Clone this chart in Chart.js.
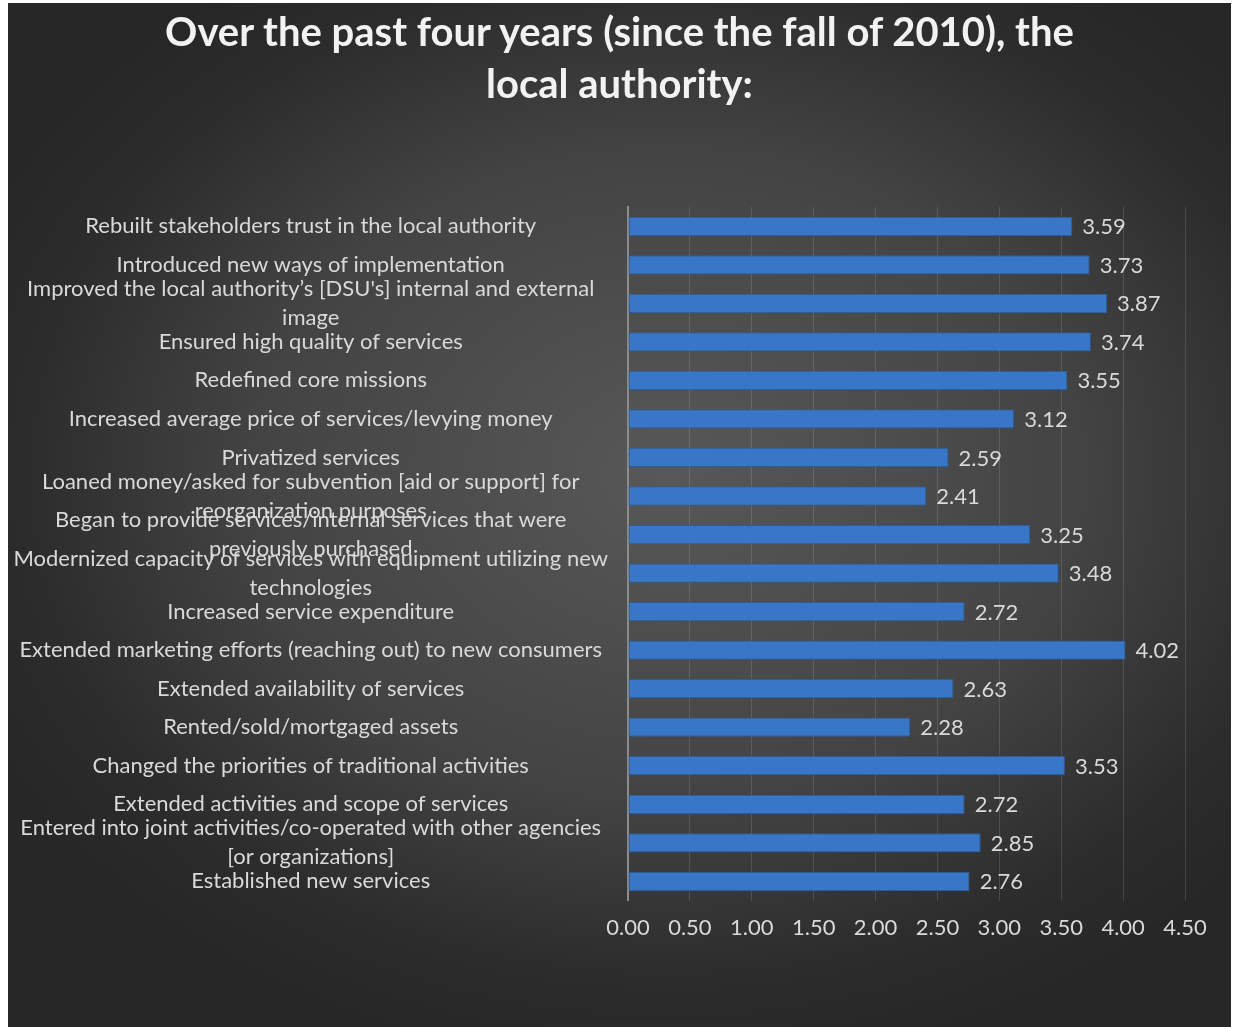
<!DOCTYPE html>
<html>
<head>
<meta charset="utf-8">
<script src="https://cdn.jsdelivr.net/npm/chart.js@4.4.1/dist/chart.umd.min.js"></script>
<style>
  html, body { margin: 0; padding: 0; background: #fff; }
  #panel {
    position: absolute; left: 8px; top: 3px; width: 1223px; height: 1024px;
    background: radial-gradient(ellipse 62% 58% at 54% 46%, #585858 0%, #434343 55%, #2c2c2c 85%, #272727 100%);
  }
  #chart { display: block; position: absolute; left: 0; top: 0; }
  #title {
    position: absolute; left: 0; top: 2px; width: 100%;
    text-align: center; color: #f2f2f2;
    font: bold 40px/52px Lato, "Open Sans", sans-serif;
  }
</style>
</head>
<body>
<div id="panel">
  <canvas id="chart" width="1223" height="1024"></canvas>
  <div id="title"></div>
</div>
<script>
// ─────────────────────────────────────────────────
// Data
// ─────────────────────────────────────────────────
const titleLines = ['Over the past four years (since the fall of 2010), the', 'local authority:'];

const categories = [
    'Rebuilt stakeholders trust in the local authority',
    'Introduced new ways of implementation',
    ['Improved the local authority\u2019s [DSU\'s] internal and external', 'image'],
    'Ensured high quality of services',
    'Redefined core missions',
    'Increased average price of services/levying money',
    'Privatized services',
    ['Loaned money/asked for subvention [aid or support] for', 'reorganization purposes'],
    ['Began to provide services/internal services that were', 'previously purchased'],
    ['Modernized capacity of services with equipment utilizing new', 'technologies'],
    'Increased service expenditure',
    'Extended marketing efforts (reaching out) to new consumers',
    'Extended availability of services',
    'Rented/sold/mortgaged assets',
    'Changed the priorities of traditional activities',
    'Extended activities and scope of services',
    ['Entered into joint activities/co-operated with other agencies', '[or organizations]'],
    'Established new services'
];

const scores = [3.59, 3.73, 3.87, 3.74, 3.55, 3.12, 2.59, 2.41, 3.25, 3.48, 2.72, 4.02, 2.63, 2.28, 3.53, 2.72, 2.85, 2.76];

const xMin = 0, xMax = 4.5, xStep = 0.5;

// Title sits over the whole panel, centred
const titleEl = document.getElementById('title');
titleLines.forEach(line => {
    const d = document.createElement('div');
    d.textContent = line;
    titleEl.appendChild(d);
});

// ─────────────────────────────────────────────────
// Value labels at the end of each bar
// ─────────────────────────────────────────────────
const FONT = 'Lato, "Open Sans", sans-serif';
const TEXT = '#d9d9d9';

const valueLabels = {
    id: 'valueLabels',
    afterDatasetsDraw(chart) {
        const ctx = chart.ctx;
        const meta = chart.getDatasetMeta(0);
        ctx.save();
        ctx.font = '22px ' + FONT;
        ctx.fillStyle = TEXT;
        ctx.textAlign = 'left';
        ctx.textBaseline = 'middle';
        meta.data.forEach((bar, i) => {
            ctx.fillText(scores[i].toFixed(2), bar.x + 10, bar.y + 1);
        });
        ctx.restore();
    }
};

// Bars: soft top-to-bottom shading inside each bar
function barFill(context) {
    const bar = context.element;
    if (!bar || bar.y == null) return '#3877c7';
    const h = bar.height || 19;
    const g = context.chart.ctx.createLinearGradient(0, bar.y - h / 2, 0, bar.y + h / 2);
    g.addColorStop(0, '#4085d6');
    g.addColorStop(0.5, '#3878c8');
    g.addColorStop(1, '#2f67ad');
    return g;
}

// ─────────────────────────────────────────────────
// Chart
// ─────────────────────────────────────────────────
const ctx = document.getElementById('chart').getContext('2d');

new Chart(ctx, {
    type: 'bar',
    data: {
        labels: categories,
        datasets: [{
            data: scores,
            backgroundColor: barFill,
            borderColor: '#2b5c9c',
            borderWidth: 1,
            borderSkipped: false,
            categoryPercentage: 1,
            barPercentage: 0.5
        }]
    },
    options: {
        indexAxis: 'y',
        responsive: false,
        animation: false,
        layout: { padding: { left: 0, right: 46, top: 204, bottom: 72 } },
        plugins: {
            legend: { display: false },
            tooltip: { enabled: false },
            title: { display: false }
        },
        scales: {
            x: {
                min: xMin, max: xMax,
                grid: { color: 'rgba(255,255,255,0.13)', lineWidth: 1, drawTicks: false },
                border: { display: false },
                ticks: {
                    stepSize: xStep, padding: 14,
                    color: TEXT, font: { family: FONT, size: 22 },
                    callback: (v) => v.toFixed(2)
                }
            },
            y: {
                grid: { display: false, drawTicks: false },
                border: { display: true, color: '#8c8c8c', width: 2 },
                ticks: {
                    padding: 20, crossAlign: 'center', autoSkip: false,
                    color: TEXT, font: { family: FONT, size: 22, lineHeight: 1.32 }
                },
                afterFit: (scale) => { scale.width = 620; }
            }
        }
    },
    plugins: [valueLabels]
});
</script>
</body>
</html>
